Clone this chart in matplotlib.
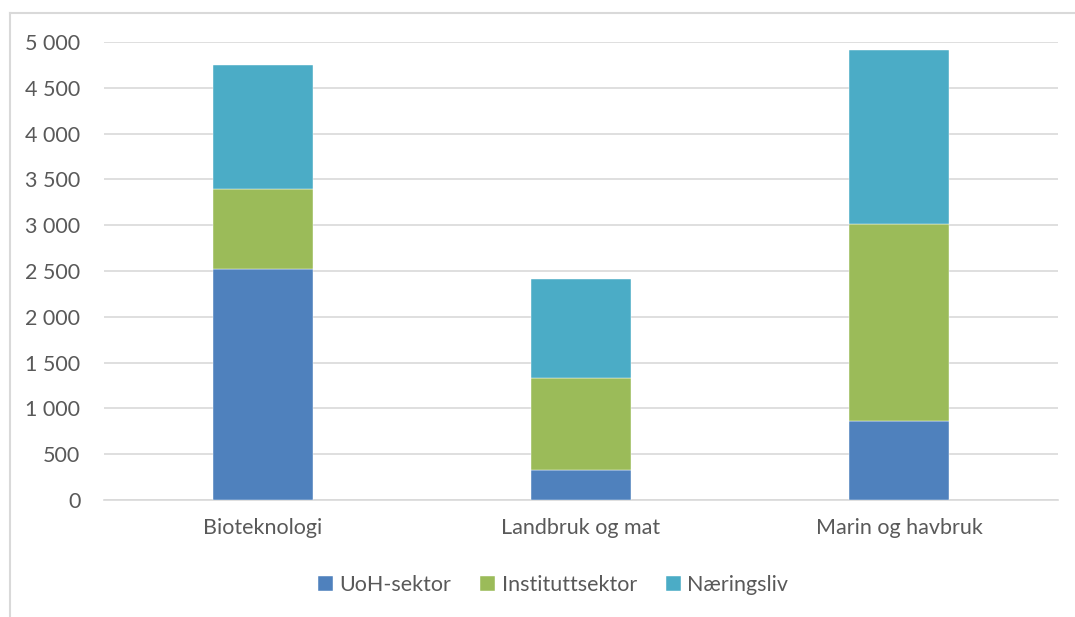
import matplotlib
matplotlib.use("Agg")
import matplotlib.pyplot as plt
from matplotlib.lines import Line2D
from matplotlib.ticker import FuncFormatter

categories = ["Bioteknologi", "Landbruk og mat", "Marin og havbruk"]
series_names = ["UoH-sektor", "Instituttsektor", "Næringsliv"]
uoh = [2525, 330, 866]
institutt = [867, 1002, 2144]
naering = [1353, 1077, 1903]
yticks = [0, 500, 1000, 1500, 2000, 2500, 3000, 3500, 4000, 4500, 5000]

colors = ["#4F81BD", "#9BBB59", "#4BACC6"]
text_color = "#595959"

plt.rcParams['font.family'] = ['Lato', 'DejaVu Sans']

fig = plt.figure(figsize=(10.75, 6.17), dpi=100)
ax = fig.add_axes([104/1075, 1 - 500/617, (1058-104)/1075, (500-42)/617])

x = list(range(len(categories)))
bottom = [0, 0, 0]
for vals, name, c in zip([uoh, institutt, naering], series_names, colors):
    ax.bar(x, vals, width=0.315, bottom=bottom, color=c, label=name, zorder=3,
           edgecolor="white", linewidth=0.3)
    bottom = [b + v for b, v in zip(bottom, vals)]

ax.set_xlim(-0.5, 2.5)
ax.set_ylim(0, 5000)
ax.set_yticks(yticks)
ax.yaxis.set_major_formatter(FuncFormatter(lambda v, p: f"{int(v):,}".replace(",", " ")))
ax.set_xticks(x)
ax.set_xticklabels(categories)
ax.grid(axis="y", color="#D9D9D9", linewidth=1.2, zorder=0)
for s in ["top", "right", "left"]:
    ax.spines[s].set_visible(False)
ax.spines["bottom"].set_color("#D9D9D9")
ax.spines["bottom"].set_linewidth(1.2)
ax.tick_params(axis="both", length=0, colors=text_color, labelsize=15.5)
ax.tick_params(axis="y", pad=17)
ax.tick_params(axis="x", pad=13)

leg = fig.legend(loc="center", bbox_to_anchor=(553/1075, 1 - 585/617), ncol=3, frameon=False,
                 fontsize=15.5, handlelength=0.7, handleheight=0.7, handletextpad=0.3,
                 columnspacing=1.35)
for t in leg.get_texts():
    t.set_color(text_color)

# chart-area border (only top and left visible in the reference crop)
fig.add_artist(Line2D([10/1075, 10/1075], [0, 1 - 13/617], transform=fig.transFigure,
                      color="#D9D9D9", linewidth=1.5))
fig.add_artist(Line2D([10/1075, 1], [1 - 13/617, 1 - 13/617], transform=fig.transFigure,
                      color="#D9D9D9", linewidth=1.5))

fig.savefig("out.png", dpi=100)
